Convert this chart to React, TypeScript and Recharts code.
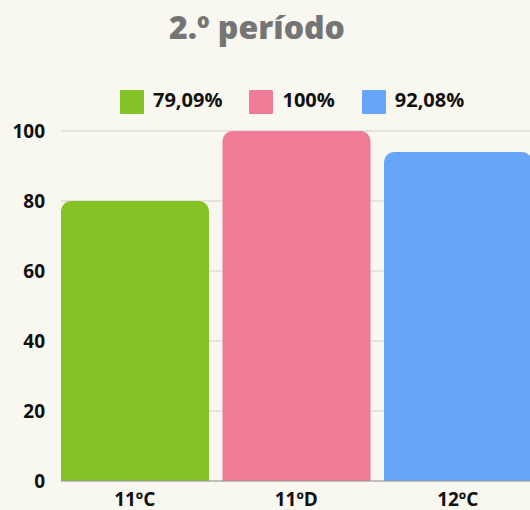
import React from "react";
import { BarChart, Bar, XAxis, YAxis, CartesianGrid, Cell } from "recharts";

const categories = ["11ºC", "11ºD", "12ºC"];
const values = [80, 100, 94];
const legendLabels = ["79,09%", "100%", "92,08%"];
const colors = ["#84c226", "#f07b96", "#66a6f9"];
const yTicks = [0, 20, 40, 60, 80, 100];
const title = "2.º período";

const data = categories.map((c, i) => ({ name: c, value: values[i] }));

const FONT = "'Open Sans', 'Noto Sans', sans-serif";

export default function App() {
  return (
    <div
      style={{
        position: "fixed",
        left: 0,
        top: 0,
        width: 530,
        height: 510,
        overflow: "hidden",
        background: "#f8f7f0",
        fontFamily: FONT,
      }}
    >
      <div
        style={{
          position: "absolute",
          left: 0,
          top: 5,
          width: 514,
          textAlign: "center",
          fontSize: 32,
          fontWeight: 800,
          color: "#757575",
          lineHeight: 1.362,
          whiteSpace: "nowrap",
        }}
      >
        {title}
      </div>
      <div
        style={{
          position: "absolute",
          left: 120,
          top: 90,
          height: 24,
          display: "flex",
          alignItems: "center",
          gap: 27,
          whiteSpace: "nowrap",
        }}
      >
        {legendLabels.map((l, i) => (
          <div key={l} style={{ display: "flex", alignItems: "center", gap: 9 }}>
            <div style={{ width: 24, height: 24, background: colors[i], borderRadius: 1 }} />
            <span
              style={{
                fontSize: 20,
                fontWeight: 700,
                color: "#111",
                position: "relative",
                top: -2,
                lineHeight: 1.362,
              }}
            >
              {l}
            </span>
          </div>
        ))}
      </div>
      <div style={{ position: "absolute", left: 0, top: 0 }}>
        <BarChart
          width={530}
          height={510}
          data={data}
          margin={{ top: 131, right: 0, bottom: 0, left: 0 }}
        >
          <CartesianGrid vertical={false} stroke="#cfcfcf" strokeWidth={1.2} />
          <XAxis
            dataKey="name"
            height={29}
            padding={{ left: -7, right: -8.5 }}
            axisLine={{ stroke: "#999", strokeWidth: 1.2 }}
            tickLine={false}
            tickSize={0}
            tickMargin={12}
            tick={{ fill: "#111", fontSize: 19, fontWeight: 700, fontFamily: FONT }}
          />
          <YAxis
            width={61}
            domain={[0, 100]}
            ticks={yTicks}
            axisLine={false}
            tickLine={false}
            tickSize={0}
            tickMargin={16}
            tick={{ fill: "#111", fontSize: 19, fontWeight: 700, fontFamily: FONT }}
          />
          <Bar dataKey="value" barSize={148} radius={[10, 10, 0, 0]} isAnimationActive={false}>
            {data.map((d, i) => (
              <Cell key={d.name} fill={colors[i]} />
            ))}
          </Bar>
        </BarChart>
      </div>
    </div>
  );
}
